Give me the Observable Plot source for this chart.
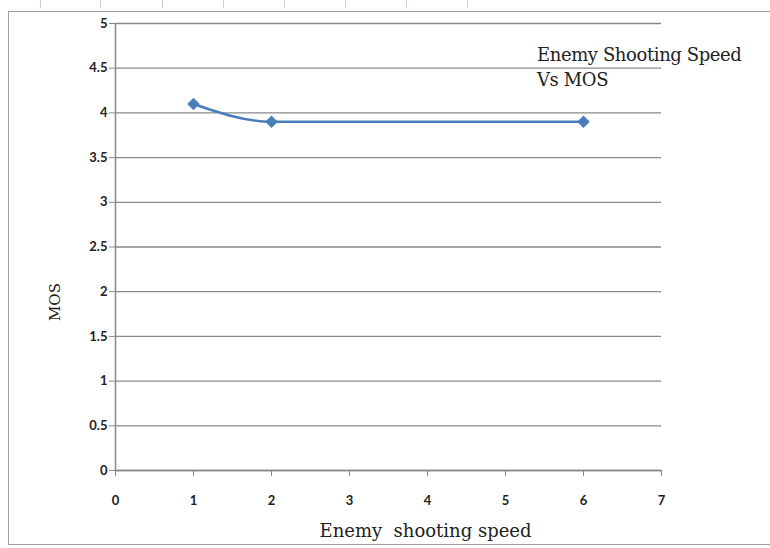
<!DOCTYPE html>
<html>
<head>
<meta charset="utf-8">
<script src="https://cdn.jsdelivr.net/npm/d3@7"></script>
<script src="https://cdn.jsdelivr.net/npm/@observablehq/plot@0.6"></script>
<style>
  body { margin: 0; background: #fff; }
  #wrap { position: relative; width: 770px; height: 548px; overflow: hidden; background: #fff; }
  #frame { position: absolute; left: 8px; top: 11px; width: 800px; height: 534px; border: 1.5px solid #a0a0a0; box-sizing: border-box; }
  .rt { position: absolute; top: 0; width: 1px; height: 8px; background: #c5cde0; }
  #legend { position: absolute; left: 537px; top: 42px; font-family: "DejaVu Serif", serif; font-size: 18px; line-height: 25px; color: #222; letter-spacing: -0.4px; white-space: nowrap; }
  #chart { position: absolute; left: 0; top: 0; }
</style>
</head>
<body>
<div id="wrap">
  <div id="frame"></div>
  <div id="chart"></div>
  <div id="legend">Enemy Shooting Speed<br>Vs MOS</div>
</div>
<script>
const speed = [1, 2, 6];
const mos = [4.1, 3.9, 3.9];
const xTicks = [0, 1, 2, 3, 4, 5, 6, 7];
const yTicks = [0, 0.5, 1, 1.5, 2, 2.5, 3, 3.5, 4, 4.5, 5];
const rulerTicks = [40, 100, 162, 223, 284, 345, 406, 467];

const data = speed.map((s, i) => ({speed: s, mos: mos[i]}));
const blue = "#4a7ebb";

const wrap = document.getElementById("wrap");
rulerTicks.forEach(x => {
  const d = document.createElement("div");
  d.className = "rt";
  d.style.left = x + "px";
  wrap.appendChild(d);
});

// square rotated 45° (Excel-style diamond marker)
const diamondSymbol = {
  draw(context, size) {
    const r = Math.sqrt(size / 2);
    context.moveTo(0, -r);
    context.lineTo(r, 0);
    context.lineTo(0, r);
    context.lineTo(-r, 0);
    context.closePath();
  }
};

const chart = Plot.plot({
  width: 770,
  height: 548,
  marginLeft: 115,
  marginRight: 109,
  marginTop: 23,
  marginBottom: 78,
  style: {fontFamily: "Lato, sans-serif", fontSize: "12px", background: "transparent", color: "#222"},
  x: {domain: [0, 7], ticks: xTicks},
  y: {domain: [0, 5], ticks: yTicks},
  marks: [
    Plot.gridY(yTicks, {stroke: "#888", strokeOpacity: 1, strokeWidth: 1.3}),
    Plot.ruleX([0], {stroke: "#888", strokeWidth: 1.5}),
    Plot.ruleY([0], {stroke: "#888", strokeWidth: 1.5}),
    Plot.axisY(yTicks, {tickSize: 6, tickPadding: 2, stroke: "#888", fill: "#222", fontSize: 13, fontWeight: "bold", label: null, tickFormat: d => String(d)}),
    Plot.axisX(xTicks, {tickSize: 6, tickPadding: 19, stroke: "#888", fill: "#222", fontSize: 13, fontWeight: "bold", label: null}),
    Plot.line(data, {x: "speed", y: "mos", stroke: blue, strokeWidth: 2.5, curve: "monotone-x"}),
    Plot.dot(data, {x: "speed", y: "mos", symbol: diamondSymbol, r: 5, fill: blue, stroke: "none"}),
    Plot.text(["Enemy  shooting speed"], {frameAnchor: "bottom", dx: 37, dy: 66, fontFamily: "DejaVu Serif, serif", fontSize: 18, fill: "#222", letterSpacing: "-0.6px"}),
    Plot.text(["MOS"], {frameAnchor: "left", dx: -60, dy: 74, rotate: -90, fontFamily: "DejaVu Serif, serif", fontSize: 15, fill: "#222"})
  ]
});
document.getElementById("chart").appendChild(chart);
</script>
</body>
</html>
